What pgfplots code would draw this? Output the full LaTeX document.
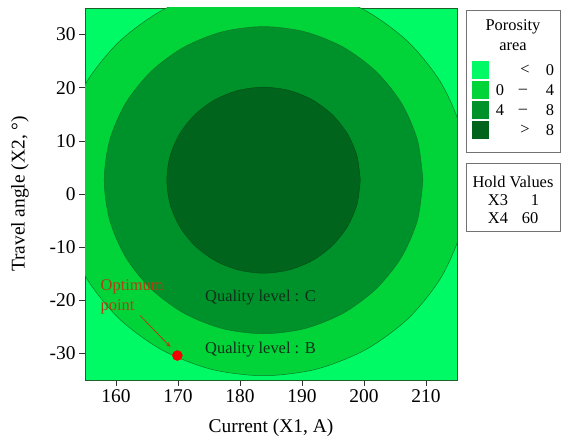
\documentclass[border=0pt]{standalone}
\usepackage{pgfplots}
\pgfplotsset{compat=1.18}
\usepackage{fontspec}
\setmainfont{Liberation Serif}
\usetikzlibrary{arrows.meta}
\definecolor{c0}{HTML}{00FA66}
\definecolor{c1}{HTML}{00D438}
\definecolor{c2}{HTML}{00922A}
\definecolor{c3}{HTML}{00641C}
\definecolor{edge}{HTML}{0E7A28}
\definecolor{frame}{HTML}{1F5F2A}
\definecolor{ann}{HTML}{B0400E}
\definecolor{qual}{HTML}{10301A}
\begin{document}
\begin{tikzpicture}[x=1bp,y=1bp]
\path[use as bounding box] (0,0) rectangle (564,441);
\begin{axis}[at={(85bp,61bp)}, anchor=south west, scale only axis,
  width=372bp, height=372bp,
  xmin=155, xmax=215, ymin=-35, ymax=35,
  xtick={160,170,...,210}, ytick={-30,-20,...,30},
  tick align=outside, major tick length=6bp,
  xtick pos=left, ytick pos=left,
  tick style={black!80, line width=0.6bp},
  axis line style={frame, line width=0.8bp},
  axis background/.style={fill=c0},
  ticklabel style={font=\fontsize{19.5}{19.5}\selectfont},
  /pgf/number format/assume math mode=true,
  label style={font=\fontsize{19.5}{19.5}\selectfont},
  xlabel={Current (X1, A)},
  ylabel={Travel angle (X2, °)},
  xlabel style={at={(axis description cs:0.5,-0.129)}, anchor=center},
  ylabel style={at={(axis description cs:-0.175,0.5)}, anchor=center},
]
% 0 - 4 region (outer boundary, level 0)
\addplot[fill=c1, draw=edge, line width=0.5bp, smooth] coordinates {
(216.8,2.6) (215.68,12.13) (212.38,21.0) (207.13,28.62) (200.3,34.47) (192.35,38.15)
(183.8,39.4) (175.25,38.15) (167.3,34.47) (160.47,28.62) (155.22,21.0) (151.92,12.13)
(150.8,2.6) (151.92,-6.93) (155.22,-15.8) (160.47,-23.42) (167.3,-29.27) (175.25,-32.95)
(183.8,-34.2) (192.35,-32.95) (200.3,-29.27) (207.13,-23.42) (212.38,-15.8) (215.68,-6.93)
(216.8,2.6)};
% 4 - 8 region (level 4)
\addplot[fill=c2, draw=edge, line width=0.5bp, smooth] coordinates {
(209.5,2.6) (208.63,10.09) (206.06,17.05) (201.97,23.03) (196.65,27.63) (190.46,30.52)
(183.8,31.5) (177.14,30.52) (170.95,27.63) (165.63,23.03) (161.54,17.05) (158.97,10.09)
(158.1,2.6) (158.97,-4.89) (161.54,-11.85) (165.63,-17.83) (170.95,-22.43) (177.14,-25.32)
(183.8,-26.3) (190.46,-25.32) (196.65,-22.43) (201.97,-17.83) (206.06,-11.85) (208.63,-4.89)
(209.5,2.6)};
% > 8 region (level 8)
\addplot[fill=c3, draw=c3!80!black, line width=0.5bp, smooth] coordinates {
(199.4,2.6) (198.87,7.13) (197.31,11.35) (194.83,14.97) (191.6,17.76) (187.84,19.5)
(183.8,20.1) (179.76,19.5) (176.0,17.76) (172.77,14.97) (170.29,11.35) (168.73,7.13)
(168.2,2.6) (168.73,-1.93) (170.29,-6.15) (172.77,-9.77) (176.0,-12.56) (179.76,-14.3)
(183.8,-14.9) (187.84,-14.3) (191.6,-12.56) (194.83,-9.77) (197.31,-6.15) (198.87,-1.93)
(199.4,2.6)};
% optimum point
\addplot[only marks, mark=*, mark size=5bp, mark options={fill=red!95!black, draw=red!95!black}] coordinates {(169.9,-30.4)};
\draw[-{Stealth[length=5bp,width=4bp]}, ann, line width=0.8bp] (axis cs:163.9,-22.9) -- (axis cs:168.8,-28.8);
\node[anchor=west, text=ann, font=\fontsize{16.5}{17}\selectfont, inner sep=0pt] at (axis cs:157.5,-17.5) {Optimum};
\node[anchor=west, text=ann, font=\fontsize{16.5}{17}\selectfont, inner sep=0pt] at (axis cs:157.5,-21.3) {point};
\node[text=qual, font=\fontsize{16.5}{17}\selectfont] at (axis cs:183.3,-19.4) {Quality level : C};
\node[text=qual, font=\fontsize{16.5}{17}\selectfont] at (axis cs:183.3,-29.3) {Quality level : B};
\end{axis}
% legend: porosity area
\begin{scope}[font=\fontsize{16.5}{17}\selectfont]
\draw[black!55, line width=0.7bp] (466,289) rectangle (560,431);
\node at (513,414) {Porosity};
\node at (513,394) {area};
\fill[c0] (472,362) rectangle (489,380);
\fill[c1] (472,342) rectangle (489,360);
\fill[c2] (472,322) rectangle (489,340);
\fill[c3] (472,302) rectangle (489,320);
\node at (525,371) {<}; \node at (550,371) {0};
\node at (500,351) {0}; \node[yshift=-1.5bp] at (523,351) {–}; \node at (550,351) {4};
\node at (500,331) {4}; \node[yshift=-1.5bp] at (523,331) {–}; \node at (550,331) {8};
\node at (525,311) {>}; \node at (550,311) {8};
% hold values
\draw[black!55, line width=0.7bp] (466,210) rectangle (560,278);
\node at (513,259) {Hold Values};
\node at (498,241) {X3}; \node at (535,241) {1};
\node at (498,223) {X4}; \node at (530,223) {60};
\end{scope}
\end{tikzpicture}
\end{document}
